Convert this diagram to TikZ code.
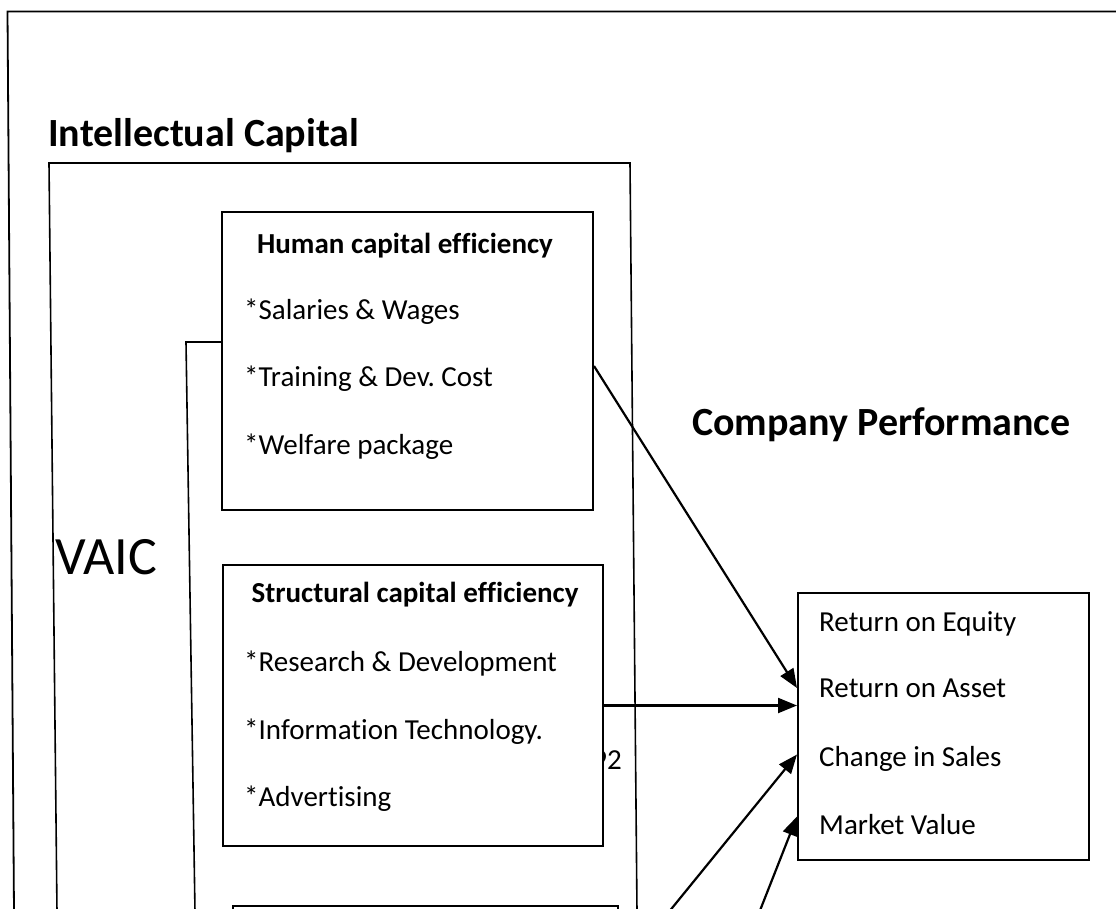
\documentclass[tikz,border=0pt]{standalone}
\usepackage{fontspec}
\setmainfont{Carlito}[Ligatures=NoCommon]
\usetikzlibrary{arrows.meta,calc}
\frenchspacing
\begin{document}
\begin{tikzpicture}[x=1pt,y=-1pt,
  frame/.style={line width=1.8pt},
  thin frame/.style={line width=1.6pt},
  box/.style={draw,line width=2pt,fill=white,inner sep=0pt},
  body/.style={font=\fontsize{29}{34}\selectfont,inner sep=0pt,anchor=base west},
  title/.style={font=\bfseries\fontsize{29}{34}\selectfont,inner sep=0pt,anchor=base},
  head/.style={font=\bfseries\fontsize{40}{46}\selectfont,inner sep=0pt,anchor=base west},
  link/.style={line width=2.2pt,-{Triangle[length=19pt,width=15pt]}}
]
\useasboundingbox (0,0) rectangle (1116,908);
\clip (0,0) rectangle (1116,908);

% outer frame
\draw[frame] (14,912) -- (7.5,11.5) -- (1120,11.5);

% intellectual capital frame
\draw[thin frame] (57,912) -- (49,163) -- (630,163) -- (637,912);

% bracket joining the efficiency boxes
\draw[thin frame] (221,342) -- (186,342) -- (195,912);

% value partly hidden behind the structural box
\node[body,anchor=base east] (num) at (622,769) {92};

% boxes
\node[box,anchor=north west,minimum width=371pt,minimum height=298pt] (hum) at (221,211) {};
\node[box,anchor=north west,minimum width=380pt,minimum height=281pt] (str) at (222,564) {};
\node[box,anchor=north west,minimum width=385pt,minimum height=100pt] (rel) at (232,905) {};
\node[box,anchor=north west,minimum width=291pt,minimum height=267pt] (perf) at (797,592) {};

% headings
\node[head] (ichead) at (48,146) {Intellectual Capital};
\node[head] (cphead) at (692,435) {Company Performance};
\node[body,font=\fontsize{54}{60}\selectfont] (vaic) at (55,574) {VAIC};

% human capital efficiency
\node[title] (humt) at (405,253) {Human capital efficiency};
\node[body] (h1) at (244,319) {*Salaries \& Wages};
\node[body] (h2) at (244,386) {*Training \& Dev. Cost};
\node[body] (h3) at (244,454) {*Welfare package};

% structural capital efficiency
\node[title] (strt) at (415,602) {Structural capital efficiency};
\node[body] (s1) at (244,671) {*Research \& Development};
\node[body] (s2) at (244,739) {*Information Technology.};
\node[body] (s3) at (244,806) {*Advertising};

% performance measures
\node[body] (p1) at (819,631) {Return on Equity};
\node[body] (p2) at (819,697) {Return on Asset};
\node[body] (p3) at (819,766) {Change in Sales};
\node[body] (p4) at (819,834) {Market Value};

% connectors
\coordinate (c3) at (668,913);
\coordinate (c4) at (759,913);
\draw[link] ([yshift=-5pt]hum.east) -- ([yshift=38.5pt]perf.west);
\draw[link] (str.east) -- (str.east -| perf.west);
\draw[link] (c3) -- ([yshift=-28pt]perf.west);
\draw[link] (c4) -- ([yshift=-90pt]perf.west);
\end{tikzpicture}
\end{document}
